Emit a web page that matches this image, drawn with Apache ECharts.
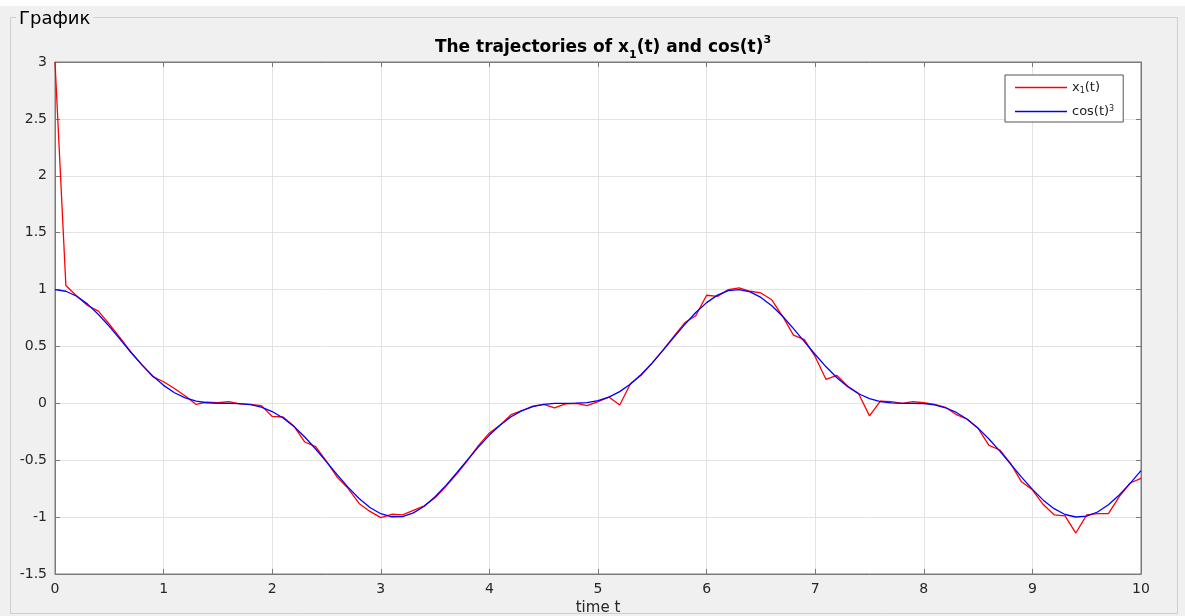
<!DOCTYPE html>
<html>
<head>
<meta charset="utf-8">
<script src="https://cdn.jsdelivr.net/npm/echarts@6/dist/echarts.min.js"></script>
<style>
  html, body { margin: 0; padding: 0; background: #f0f0f0; }
  #chart { width: 1185px; height: 616px; }
</style>
</head>
<body>
<div id="chart"></div>
<script>
// Sampling step of the simulation (seconds)
const dt = 0.1;

// Simulated state x1(t), sampled every dt from t = 0 to t = 10
const x1Values = [
  3.0, 1.035, 0.944, 0.86, 0.81, 0.695, 0.575, 0.45, 0.34, 0.235,
  0.19, 0.13, 0.065, -0.01, 0.01, 0.005, 0.015, -0.005, -0.01, -0.02,
  -0.115, -0.12, -0.2, -0.34, -0.38, -0.51, -0.65, -0.75, -0.88, -0.95,
  -1.005, -0.975, -0.98, -0.94, -0.90, -0.83, -0.73, -0.62, -0.50, -0.37,
  -0.26, -0.19, -0.10, -0.065, -0.025, -0.01, -0.04, -0.005, 0.0, -0.02,
  0.015, 0.055, -0.015, 0.175, 0.25, 0.355, 0.47, 0.59, 0.71, 0.77,
  0.95, 0.94, 1.0, 1.015, 0.985, 0.97, 0.91, 0.765, 0.60, 0.56,
  0.41, 0.21, 0.245, 0.15, 0.085, -0.11, 0.02, 0.015, 0.0, 0.015,
  0.005, -0.01, -0.035, -0.10, -0.14, -0.22, -0.37, -0.41, -0.53, -0.69,
  -0.76, -0.89, -0.98, -0.99, -1.14, -0.98, -0.97, -0.97, -0.82, -0.70,
  -0.66
];

// Reference trajectory cos(t)^3 on the same time grid
const cosCubeValues = [
  1.000, 0.985, 0.941, 0.872, 0.781, 0.676, 0.562, 0.447, 0.338, 0.240,
  0.158, 0.093, 0.048, 0.019, 0.005, 0.000, 0.000, -0.002, -0.012, -0.034,
  -0.072, -0.129, -0.204, -0.296, -0.401, -0.514, -0.629, -0.739, -0.836, -0.915,
  -0.970, -0.997, -0.995, -0.963, -0.904, -0.821, -0.721, -0.610, -0.495, -0.383,
  -0.279, -0.190, -0.118, -0.064, -0.029, -0.009, -0.001, 0.000, 0.001, 0.006,
  0.023, 0.054, 0.103, 0.170, 0.256, 0.356, 0.467, 0.582, 0.694, 0.798,
  0.885, 0.951, 0.990, 1.000, 0.980, 0.931, 0.858, 0.765, 0.657, 0.543,
  0.429, 0.321, 0.225, 0.146, 0.084, 0.042, 0.016, 0.004, 0.000, 0.000,
  -0.003, -0.014, -0.039, -0.080, -0.140, -0.218, -0.313, -0.420, -0.534, -0.648,
  -0.756, -0.851, -0.926, -0.977, -0.999, -0.992, -0.955, -0.891, -0.805, -0.703,
  -0.591
];

// Axis ranges and tick spacing
const xRange = [0, 10], xStep = 1;
const yRange = [-1.5, 3], yStep = 0.5;

// Series names
const seriesNames = ['x1', 'cos3'];

const toPairs = vals => vals.map((v, i) => [+(i * dt).toFixed(2), v]);

const axisColor = '#7a7a7a';
const labelColor = '#262626';
const font = '"DejaVu Sans", "Liberation Sans", sans-serif';

const chart = echarts.init(document.getElementById('chart'), null, { renderer: 'canvas' });

const mirrorAxis = {
  axisLine: { show: true, onZero: false, lineStyle: { color: axisColor } },
  axisTick: { show: true, inside: true, length: 5, lineStyle: { color: axisColor } },
  axisLabel: { show: false },
  splitLine: { show: false }
};

const option = {
  backgroundColor: '#f0f0f0',
  animation: false,
  title: {
    text: '{b|The trajectories of x}{sub|1}{b|(t) and cos(t)}{sup|3}',
    left: 598,
    textAlign: 'center',
    top: 30,
    textStyle: {
      rich: {
        b:   { fontFamily: font, fontWeight: 'bold', fontSize: 17, color: '#000', lineHeight: 26, verticalAlign: 'middle' },
        sub: { fontFamily: font, fontWeight: 'bold', fontSize: 11, color: '#000', lineHeight: 11, verticalAlign: 'bottom' },
        sup: { fontFamily: font, fontWeight: 'bold', fontSize: 11, color: '#000', lineHeight: 11, verticalAlign: 'top' }
      }
    }
  },
  legend: {
    orient: 'vertical',
    left: 1005,
    top: 75,
    icon: 'rect',
    itemWidth: 52,
    itemHeight: 1.5,
    itemGap: 10,
    padding: [6, 9, 4, 10],
    borderColor: '#555',
    borderWidth: 1,
    backgroundColor: '#fff',
    data: seriesNames,
    formatter: name => name === 'x1'
      ? '{t|x}{s|1}{t|(t)}'
      : '{t|cos(t)}{p|3}',
    textStyle: {
      rich: {
        t: { fontFamily: font, fontSize: 13, color: '#222', lineHeight: 14, verticalAlign: 'middle' },
        s: { fontFamily: font, fontSize: 8, color: '#222', lineHeight: 8, verticalAlign: 'bottom' },
        p: { fontFamily: font, fontSize: 8, color: '#222', lineHeight: 8, verticalAlign: 'top' }
      }
    }
  },
  grid: {
    left: 55, right: 44, top: 62, bottom: 42,
    outerBoundsMode: 'none',
    containLabel: false,
    show: true,
    backgroundColor: '#fff',
    borderColor: axisColor,
    borderWidth: 1
  },
  xAxis: [
    {
      type: 'value', min: xRange[0], max: xRange[1], interval: xStep,
      name: 'time t', nameLocation: 'middle', nameGap: 26,
      nameTextStyle: { fontFamily: font, fontSize: 15, color: labelColor },
      axisLine: { show: true, onZero: false, lineStyle: { color: axisColor } },
      axisTick: { inside: true, length: 5, lineStyle: { color: axisColor } },
      axisLabel: { margin: 8, fontFamily: font, fontSize: 14, color: labelColor },
      splitLine: { show: true, lineStyle: { color: '#e3e3e3', width: 1 } }
    },
    Object.assign({ type: 'value', position: 'top', min: xRange[0], max: xRange[1], interval: xStep }, mirrorAxis)
  ],
  yAxis: [
    {
      type: 'value', min: yRange[0], max: yRange[1], interval: yStep,
      axisLine: { show: true, onZero: false, lineStyle: { color: axisColor } },
      axisTick: { inside: true, length: 5, lineStyle: { color: axisColor } },
      axisLabel: { margin: 8, fontFamily: font, fontSize: 14, color: labelColor },
      splitLine: { show: true, lineStyle: { color: '#e3e3e3', width: 1 } }
    },
    Object.assign({ type: 'value', position: 'right', min: yRange[0], max: yRange[1], interval: yStep }, mirrorAxis)
  ],
  series: [
    {
      name: seriesNames[0], type: 'line', xAxisIndex: 0, yAxisIndex: 0,
      data: toPairs(x1Values),
      showSymbol: false, symbol: 'none',
      lineStyle: { color: '#ff0000', width: 1.3 },
      itemStyle: { color: '#ff0000' }
    },
    {
      name: seriesNames[1], type: 'line', xAxisIndex: 0, yAxisIndex: 0,
      data: toPairs(cosCubeValues),
      showSymbol: false, symbol: 'none',
      lineStyle: { color: '#0000ff', width: 1.3 },
      itemStyle: { color: '#0000ff' }
    }
  ],
  graphic: [
    { type: 'rect', z: -10, shape: { x: 0, y: 0, width: 1185, height: 6 }, style: { fill: '#fff' }, silent: true },
    { type: 'rect', z: -6, shape: { x: 10.5, y: 17.5, width: 1167, height: 596 }, style: { fill: null, stroke: '#cfcfcf', lineWidth: 1 }, silent: true },
    { type: 'text', z: -5, left: 16, top: 10,
      style: { text: 'График', font: '18px ' + font, fill: '#000', backgroundColor: '#f0f0f0', padding: [0, 3, 0, 3] }, silent: true }
  ]
};

chart.setOption(option);
</script>
</body>
</html>
